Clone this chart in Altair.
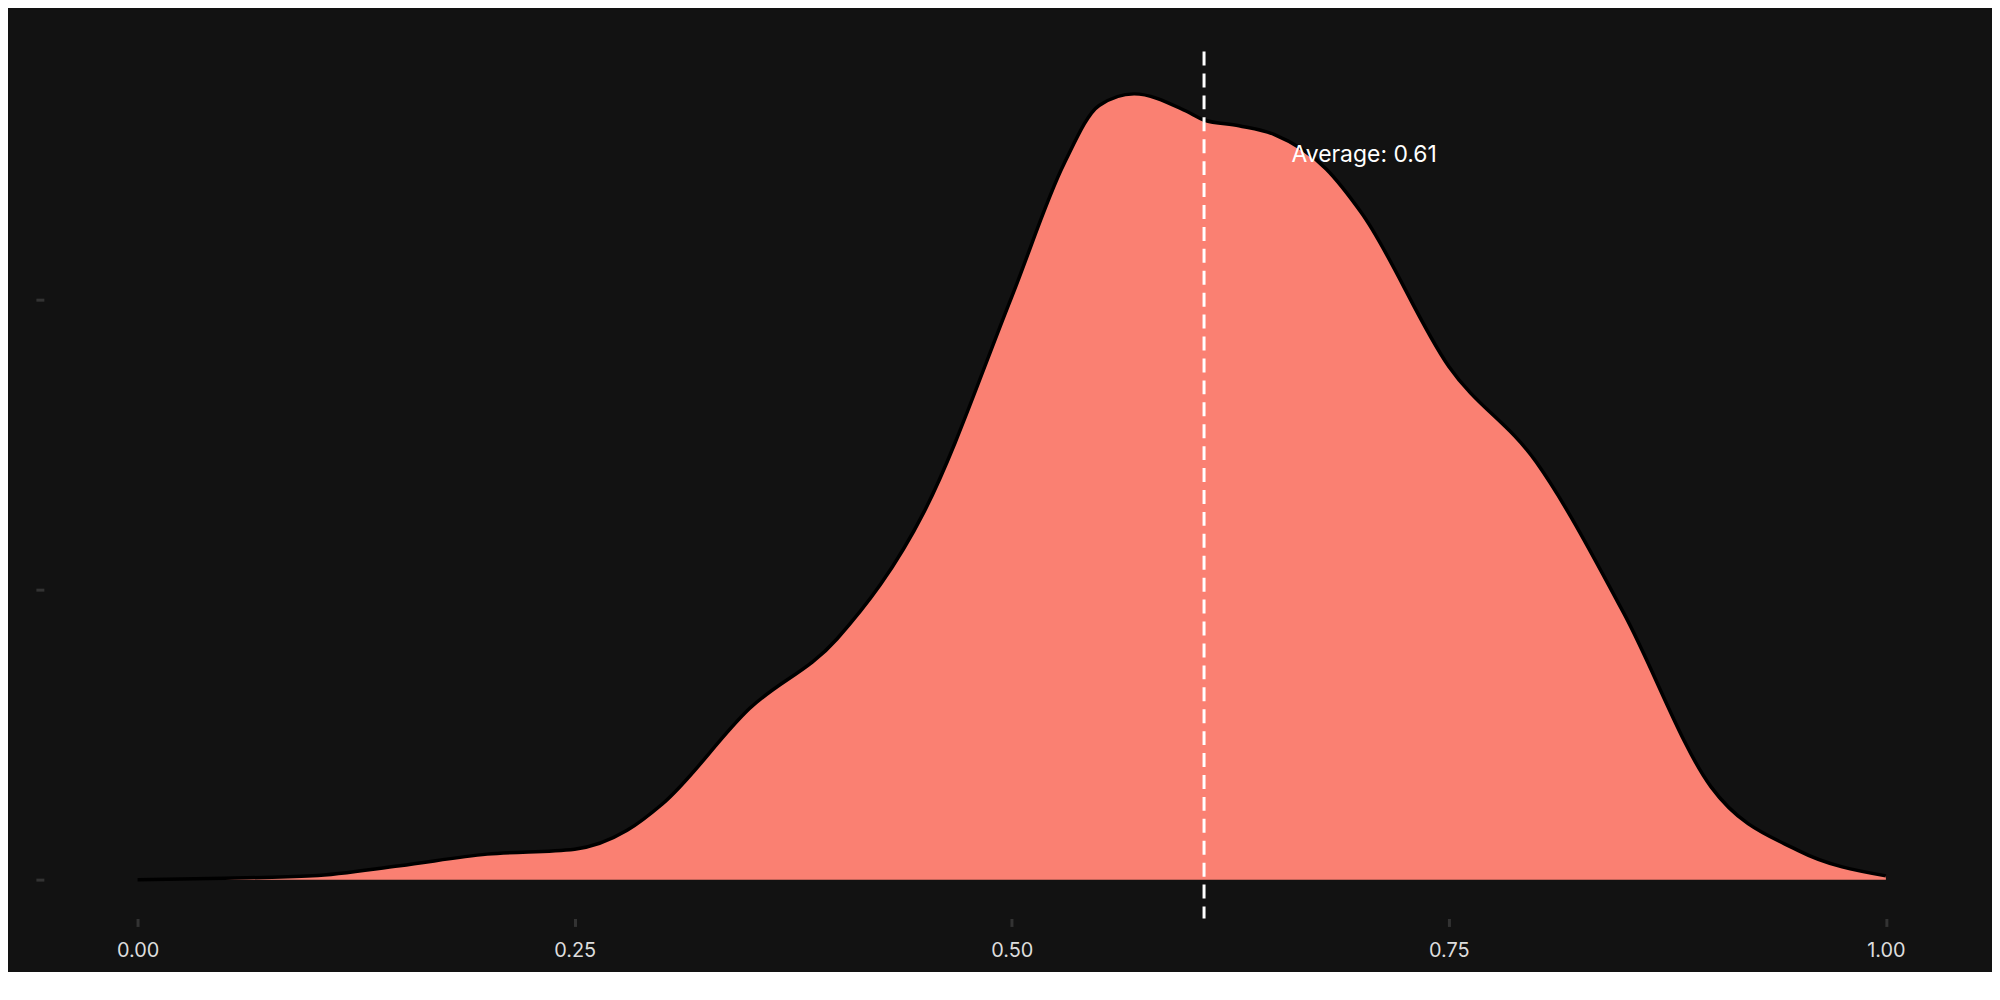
import pandas as pd
import altair as alt

xs = [0.00, 0.05, 0.10, 0.15, 0.20, 0.25, 0.28, 0.30, 0.35, 0.40, 0.45, 0.50, 0.53,
      0.55, 0.57, 0.60, 0.61, 0.63, 0.65, 0.68, 0.70, 0.75, 0.80, 0.85, 0.90, 0.95, 1.00]
dens = [0.0, 0.005, 0.013, 0.048, 0.088, 0.105, 0.17, 0.26, 0.59, 0.83, 1.27, 2.01, 2.47,
        2.67, 2.71, 2.65, 2.62, 2.60, 2.57, 2.45, 2.30, 1.77, 1.44, 0.92, 0.32, 0.10, 0.013]
avg = 0.61

df = pd.DataFrame({"x": xs, "d": dens})

xsc = alt.Scale(domain=[-0.0536, 1.055], nice=False, zero=False)
ysc = alt.Scale(domain=[-0.134, 2.856], nice=False, zero=False)

xaxis = alt.Axis(values=[0, 0.25, 0.5, 0.75, 1.0], format=".2f", domain=False,
                 grid=False, tickColor="#333333", tickSize=8, tickWidth=3,
                 labelColor="#dddddd", labelFontSize=20, labelPadding=14)
yaxis = alt.Axis(values=[0, 1, 2], labels=False, domain=False, grid=False,
                 tickColor="#333333", tickSize=8, tickWidth=3)

area = alt.Chart(df).mark_area(interpolate="monotone", color="#FA8072").encode(
    x=alt.X("x:Q", scale=xsc, title=None, axis=xaxis),
    y=alt.Y("d:Q", scale=ysc, title=None, axis=yaxis),
)

line = alt.Chart(df).mark_line(interpolate="monotone", color="black", strokeWidth=3.5).encode(
    x=alt.X("x:Q", scale=xsc), y=alt.Y("d:Q", scale=ysc)
)

rule = alt.Chart(pd.DataFrame({"x": [avg]})).mark_rule(
    color="white", strokeWidth=3, strokeDash=[14, 8]
).encode(x=alt.X("x:Q", scale=xsc))

label = alt.Chart(pd.DataFrame({"x": [avg + 0.05], "y": [2.50], "t": [f"Average: {avg:.2f}"]})).mark_text(
    align="left", baseline="middle", color="white", fontSize=23, font="Inter"
).encode(x=alt.X("x:Q", scale=xsc), y=alt.Y("y:Q", scale=ysc), text="t:N")

chart = (area + line + rule + label).properties(
    width=1945, height=870, background="#121212",
    padding={"left": 26, "top": 40, "right": 10, "bottom": 10},
).configure_view(strokeWidth=0).configure_axis(labelFont="Inter")

chart.save("out.html", embed_options={"renderer": "svg", "actions": False})
